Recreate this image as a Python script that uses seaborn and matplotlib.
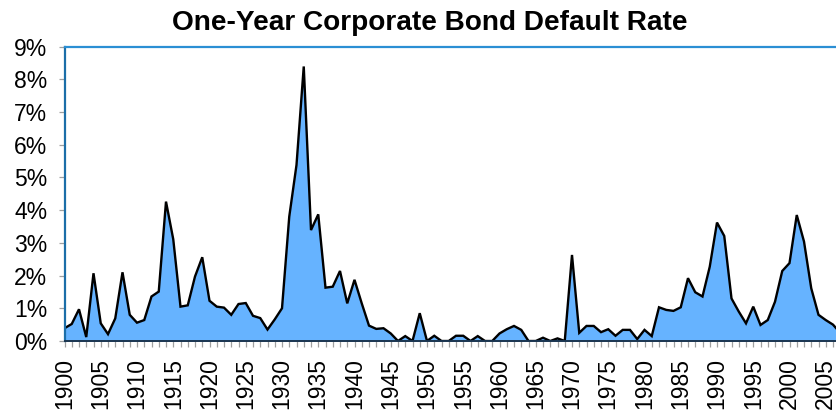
import numpy as np
import pandas as pd
import matplotlib
matplotlib.use("Agg")
import matplotlib.pyplot as plt
import seaborn as sns
from matplotlib.ticker import MultipleLocator, FuncFormatter

# Annual one-year corporate bond default rate (%), 1900-2007
years = list(range(1900, 2008))
default_rate = [
    0.39, 0.52, 0.97, 0.12, 2.07, 0.54, 0.21, 0.69, 2.10, 0.80,   # 1900s
    0.56, 0.64, 1.36, 1.51, 4.26, 3.11, 1.05, 1.09, 1.97, 2.56,   # 1910s
    1.23, 1.05, 1.02, 0.80, 1.13, 1.16, 0.77, 0.70, 0.35, 0.66,   # 1920s
    1.00, 3.80, 5.38, 8.39, 3.39, 3.87, 1.63, 1.66, 2.14, 1.15,   # 1930s
    1.87, 1.15, 0.47, 0.37, 0.39, 0.23, 0.00, 0.15, 0.00, 0.85,   # 1940s
    0.00, 0.16, 0.00, 0.00, 0.16, 0.16, 0.00, 0.15, 0.00, 0.00,   # 1950s
    0.23, 0.36, 0.46, 0.34, 0.00, 0.00, 0.10, 0.00, 0.08, 0.00,   # 1960s
    2.63, 0.25, 0.46, 0.46, 0.27, 0.36, 0.16, 0.34, 0.34, 0.06,   # 1970s
    0.34, 0.15, 1.03, 0.95, 0.92, 1.03, 1.92, 1.49, 1.36, 2.27,   # 1980s
    3.62, 3.21, 1.30, 0.90, 0.54, 1.05, 0.49, 0.64, 1.20, 2.14,   # 1990s
    2.38, 3.85, 3.04, 1.61, 0.80, 0.64, 0.50, 0.25,               # 2000s
]
title = "One-Year Corporate Bond Default Rate"

df = pd.DataFrame({"year": years, "rate": default_rate})

sns.set_theme(style="white")
plt.rcParams["font.family"] = ["Liberation Sans", "DejaVu Sans"]

fig = plt.figure(figsize=(8.37, 4.12), dpi=100)
ax = fig.add_axes([64.5 / 837, 71 / 412, 775.75 / 837, 294.5 / 412])

ax.fill_between(df["year"], df["rate"], 0, color="#66B3FF", linewidth=0, zorder=1)
sns.lineplot(data=df, x="year", y="rate", ax=ax, color="black", linewidth=1.7,
             zorder=2, solid_joinstyle="miter")

ax.set_xlim(1900, 2007)
ax.set_ylim(0, 9)
ax.set_xlabel("")
ax.set_ylabel("")

ax.yaxis.set_major_locator(MultipleLocator(1))
ax.yaxis.set_major_formatter(FuncFormatter(lambda v, _: f"{int(round(v))}%"))
ax.xaxis.set_major_locator(MultipleLocator(5))
ax.xaxis.set_minor_locator(MultipleLocator(1))
ax.xaxis.set_major_formatter(FuncFormatter(lambda v, _: f"{int(round(v))}"))

ax.tick_params(axis="y", which="major", direction="out", length=4.3, width=0.9,
               color="#a0a0a0", pad=8, labelsize=16.5, labelcolor="black", left=True)
ax.tick_params(axis="x", which="both", direction="out", length=4, width=0.9,
               color="#a0a0a0", pad=8.5, labelsize=16.5, labelcolor="black",
               bottom=True, labelrotation=90)

ax.spines["left"].set_color("#1b6ea8")
ax.spines["left"].set_linewidth(1.6)
ax.spines["top"].set_color("#2b8fd4")
ax.spines["top"].set_linewidth(1.6)
ax.spines["bottom"].set_color("#1a3550")
ax.spines["bottom"].set_linewidth(1.4)
ax.spines["right"].set_visible(False)
ax.spines["bottom"].set_zorder(3)

fig.text(430 / 837, 1 - 23 / 412, title, ha="center", va="center",
         fontsize=20.2, fontweight="bold", color="black")

fig.savefig("out.png", dpi=100, facecolor="white")
